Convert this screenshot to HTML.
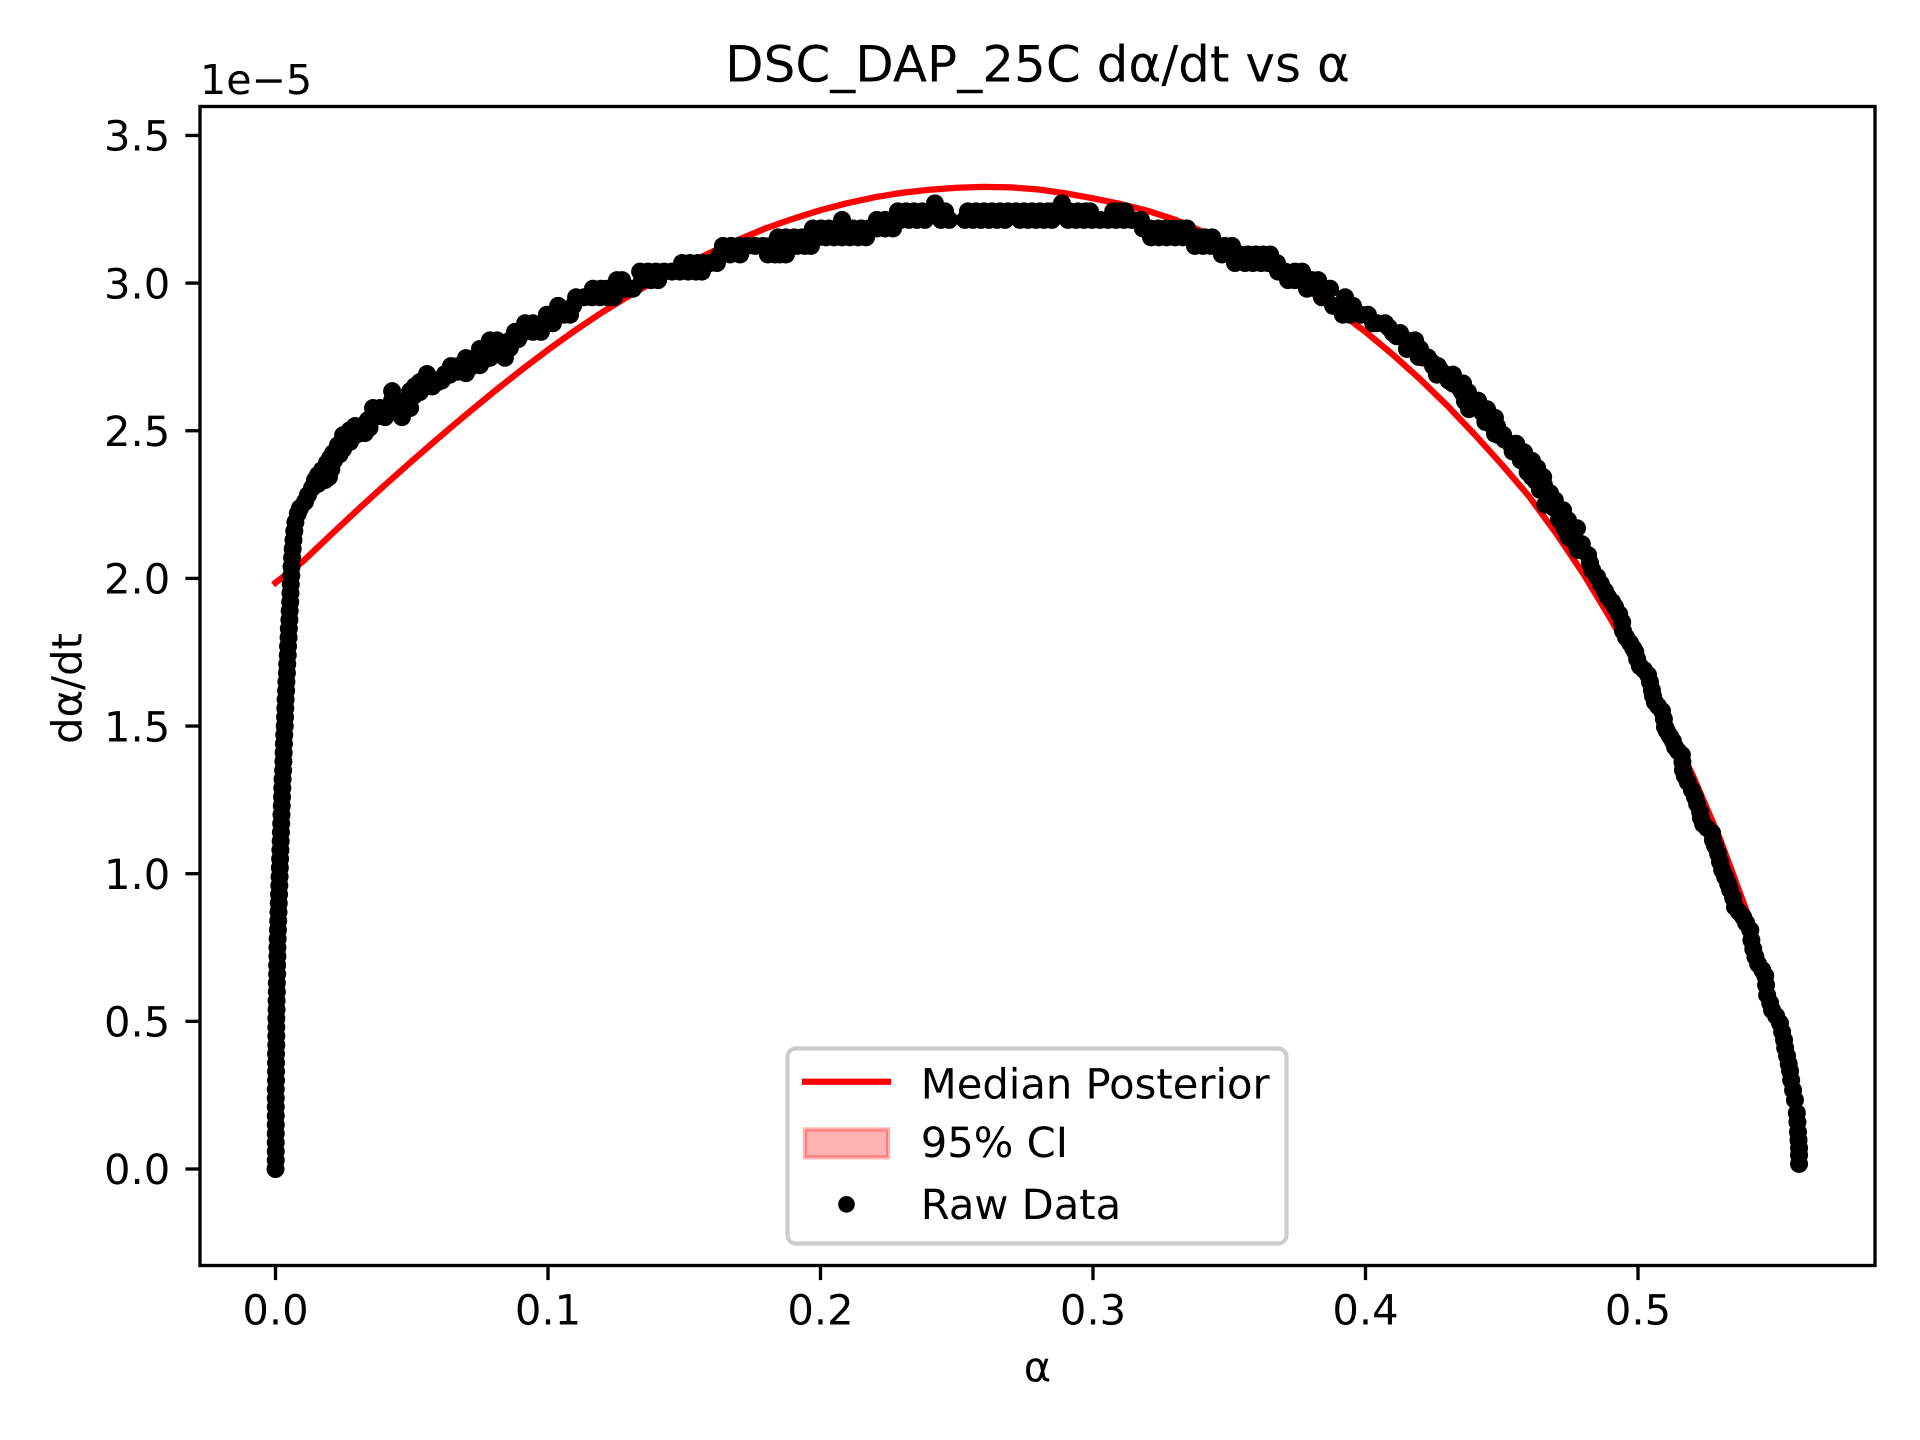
<!DOCTYPE html>
<html lang="en">
<head>
<meta charset="utf-8">
<title>DSC_DAP_25C dα/dt vs α</title>
<style>
html,body{margin:0;padding:0;background:#fff;}
svg{display:block;}
text{font-family:"DejaVu Sans","Liberation Sans",sans-serif;fill:#000;text-rendering:geometricPrecision;}
</style>
</head>
<body>
<svg id="chart" xmlns="http://www.w3.org/2000/svg" width="1920" height="1440" viewBox="0 0 1920 1440">
  <rect x="0" y="0" width="1920" height="1440" fill="#fff"/>
  <g id="median-layer"></g>
  <g id="raw-layer"></g>
  <rect x="200" y="106.5" width="1675" height="1159" fill="none" stroke="#000" stroke-width="3.33"/>
  <g id="x-axis"></g>
  <g id="y-axis"></g>
  <text x="1037.5" y="81.5" font-size="50" text-anchor="middle">DSC_DAP_25C dα/dt vs α</text>
  <text x="200" y="94" font-size="41.2">1e−5</text>
  <text x="1037.5" y="1381.5" font-size="41.67" text-anchor="middle">α</text>
  <text transform="translate(81.5 688.5) rotate(-90)" font-size="41.67" text-anchor="middle">dα/dt</text>
  <g>
    <rect x="787.5" y="1048.5" width="499" height="195" rx="8.3" ry="8.3" fill="#fff" fill-opacity="0.8" stroke="#cccccc" stroke-width="4.17"/>
    <line x1="805" y1="1081.7" x2="888" y2="1081.7" stroke="#ff0000" stroke-width="6.25" stroke-linecap="square"/>
    <text x="920.8" y="1098.5" font-size="41.67">Median Posterior</text>
    <rect x="805" y="1129.4" width="83" height="28" fill="#ff0000" fill-opacity="0.3" stroke="#ff0000" stroke-opacity="0.3" stroke-width="4.17"/>
    <text x="920.8" y="1157" font-size="41.67">95% CI</text>
    <circle cx="846.5" cy="1204.3" r="8.33" fill="#000"/>
    <text x="920.8" y="1219" font-size="41.67">Raw Data</text>
  </g>
</svg>
<script>
const xTickValues = [0.0, 0.1, 0.2, 0.3, 0.4, 0.5];
const xTickLabels = ["0.0", "0.1", "0.2", "0.3", "0.4", "0.5"];
const yTickValues = [0.0, 0.5, 1.0, 1.5, 2.0, 2.5, 3.0, 3.5];
const yTickLabels = ["0.0", "0.5", "1.0", "1.5", "2.0", "2.5", "3.0", "3.5"];

/* Median posterior: alpha and d(alpha)/dt in units of 1e-5 */
const medianAlpha = [0,.01,.02,.03,.04,.05,.06,.07,.08,.09,.10,.11,.12,.13,.14,.15,.16,.17,.18,.19,.20,.21,.22,.23,.24,.25,.26,.27,.28,.29,.30,.31,.32,.33,.34,.35,.36,.37,.38,.39,.40,.41,.42,.43,.44,.45,.46,.47,.48,.49,.50,.51,.52,.53,.54,.5437];
const medianRate = [1.985,2.057,2.145,2.231,2.315,2.397,2.477,2.555,2.631,2.704,2.774,2.840,2.902,2.958,3.011,3.060,3.105,3.147,3.186,3.218,3.247,3.271,3.291,3.306,3.316,3.323,3.326,3.324,3.317,3.304,3.287,3.268,3.245,3.215,3.175,3.130,3.080,3.026,2.968,2.905,2.835,2.758,2.675,2.585,2.488,2.386,2.278,2.152,2.015,1.862,1.700,1.525,1.335,1.120,.870,.760];

/* Raw data: alpha and d(alpha)/dt in units of 1e-5 */
const rawAlpha = [
0,.0001,.0001,.0001,.0001,.0001,.0001,.0001,.0001,.0001,
.0002,.0002,.0002,.0002,.0003,.0003,.0003,.0003,.0004,.0004,
.0005,.0005,.0006,.0006,.0007,.0007,.0008,.0009,.0010,.0011,
.0012,.0013,.0014,.0015,.0016,.0017,.0018,.0019,.0020,.0021,
.0022,.0023,.0024,.0025,.0026,.0028,.0029,.0030,.0031,.0032,
.0034,.0035,.0036,.0037,.0039,.0040,.0042,.0043,.0045,.0046,
.0048,.0049,.0051,.0052,.0054,.0055,.0056,.0058,.0059,.0061,
.0063,.0066,.0069,.0073,.0082,
.0090,.0108,.0119,.0134,.0145,.0156,.0171,.0196,.0182,.0189,
.0200,.0211,.0229,.0248,.0248,.0273,.0273,.0292,.0310,.0328,
.0339,.0358,.0358,.0384,.0402,.0384,.0428,.0428,.0428,.0442,
.0464,.0494,.0475,.0494,.0512,.0530,.0530,.0556,.0556,.0578,
.0596,.0622,.0644,.0670,.0699,.0699,.0721,.0750,.0750,.0776,
.0787,.0787,.0787,.0813,.0813,.0842,.0842,.0861,.0879,.0916,
.0945,.0916,.0945,.0974,.0996,.0989,.1018,.1037,.1059,.1081,
.1092,.1103,.1132,.1161,.1191,.1220,.1242,.1165,.1195,.1217,
.1253,.1272,.1283,.1301,.1312,.1338,.1367,.1396,.1426,.1455,
.1484,.1514,.1543,.1565,.1345,.1378,.1404,.1492,.1521,.1550,
.1569,.1595,.1620,.1631,.1642,.1668,.1672,.1701,.1705,.1730,
.1760,.1789,.1807,.1815,.1833,.1837,.1844,.1851,.1873,.1873,
.1888,.1903,.1914,.1932,.1943,.1961,.1965,.1972,.1991,.2002,
.2020,.2031,.2050,.2061,.2079,.2079,.2090,.2108,.2119,.2138,
.2149,.2167,.2178,.2207,.2207,.2237,.2237,.2266,.2266,.2284,
.2295,.2314,.2325,.2343,.2354,.2373,.2383,.2402,.2420,.2431,
.2442,.2457,.2472,.2530,.2541,.2560,.2571,.2589,.2600,.2618,
.2629,.2648,.2659,.2677,.2688,.2717,.2732,.2747,.2761,.2776,
.2791,.2805,.2820,.2835,.2849,.2853,.2886,.2886,.2908,.2915,
.2938,.2945,.2967,.2974,.2989,.2996,.3026,.3055,.3074,.3084,
.3099,.3114,.3118,.3143,.3176,.3183,.3209,.3213,.3239,.3242,
.3268,.3271,.3297,.3301,.3327,.3330,.3345,.3356,.3374,.3381,
.3404,.3411,.3433,.3437,.3459,.3473,.3484,.3503,.3510,.3539,
.3521,.3558,.3569,.3587,.3598,.3617,.3624,.3642,.3650,.3675,
.3679,.3705,.3716,.3741,.3741,.3767,.3785,.3804,.3826,.3840,
.3844,.3870,.3881,.3907,.3925,.3917,.3943,.3954,.3983,.4009,
.4028,.4043,.4072,.4101,.4127,.4152,.4182,.4152,.4200,.4178,
.4229,.4211,.4266,.4248,.4262,.4292,.4321,.4321,.4358,.4354,
.4376,.4413,.4391,.4380,.4446,.4420,.4475,.4457,.4468,.4483,
.4487,.4505,.4531,.4553,.4567,.4582,.4582,.4611,.4630,.4604,
.4611,.4652,.4655,.4663,.4677,.4695,.4706,.4725,.4721,.4743,
.4776,.4758,.4761,.4780,.4794,.4780,.4817,.4824,.4832,.4850,
.4864,.4879,.4890,.4905,.4916,.4931,.4942,.4945,.4956,.4971,
.4982,.4990,.4997,.5007,.5022,.5037,.5044,.5051,.5055,.5062,
.5073,.5088,.5095,.5099,.5106,.5117,.5128,.5136,.5147,.5161,
.5163,.5165,.5172,.5183,.5198,.5209,.5217,.5228,.5231,.5239,
.5253,.5272,.5275,.5283,.5294,.5301,.5309,.5320,.5331,.5338,
.5349,.5356,.5371,.5386,.5397,.5412,.5416,.5423,.5431,.5441,
.5456,.5467,.5470,.5474,.5485,.5492,.5507,.5521,.5529,.5536,
.5540,.5547,.5553,.5558,.5562,.5569,.5576,.5583,.5585,.5587,
.5589,.5591,.5591,.5591,
.0156,.0171,.0205,.0215,.0235,.0255,.0285,.0305,.0325,.0345,
.0370,.0395,.0415,.0445,.0455,.0475,.0510,.0530,.0575,.0610,
.0640,.0670,.0700,.0725,.0765,.0800,.0830,.0860,.0890,.0915,
.4085,.4115,.4165,.4195,.4245,.4280,.4305,.4340,.4365,.4400,
.4430,.4440,.4475,.4510,.4540,.4570,.4595,.4625,.4640,.4660,
.4690,.4710,.4730,.4745,.4770
];
const rawRate = [
0,.03,.06,.09,.12,.15,.18,.21,.24,.27,
.30,.33,.36,.39,.42,.45,.48,.51,.54,.57,
.60,.63,.66,.69,.72,.75,.78,.81,.84,.87,
.90,.93,.96,.99,1.02,1.05,1.08,1.11,1.14,1.17,
1.20,1.23,1.26,1.29,1.32,1.35,1.38,1.41,1.44,1.47,
1.50,1.53,1.56,1.59,1.62,1.65,1.68,1.71,1.74,1.77,
1.80,1.83,1.86,1.89,1.92,1.95,1.98,2.01,2.04,2.07,
2.10,2.13,2.16,2.19,2.22,
2.238,2.259,2.282,2.306,2.333,2.350,2.367,2.343,2.333,2.391,
2.407,2.424,2.451,2.438,2.485,2.462,2.502,2.516,2.502,2.492,
2.536,2.577,2.543,2.577,2.546,2.550,2.634,2.604,2.577,2.563,
2.546,2.577,2.570,2.634,2.651,2.665,2.631,2.692,2.665,2.672,
2.665,2.692,2.719,2.719,2.695,2.746,2.719,2.722,2.777,2.777,
2.806,2.777,2.747,2.806,2.777,2.747,2.777,2.806,2.835,2.864,
2.864,2.835,2.835,2.835,2.893,2.864,2.864,2.923,2.893,2.893,
2.923,2.952,2.952,2.952,2.952,2.952,2.952,2.981,2.981,2.981,
3.010,3.010,2.981,2.981,2.981,3.039,3.039,3.039,3.039,3.039,
3.039,3.039,3.039,3.039,3.010,3.010,3.010,3.068,3.068,3.068,
3.068,3.068,3.068,3.097,3.126,3.097,3.126,3.126,3.097,3.126,
3.126,3.126,3.097,3.126,3.097,3.126,3.155,3.097,3.097,3.155,
3.126,3.155,3.126,3.155,3.126,3.155,3.126,3.185,3.155,3.185,
3.155,3.185,3.155,3.185,3.155,3.214,3.185,3.155,3.185,3.155,
3.185,3.155,3.185,3.185,3.214,3.185,3.214,3.185,3.214,3.243,
3.214,3.243,3.214,3.243,3.214,3.243,3.214,3.243,3.270,3.243,
3.214,3.243,3.214,3.214,3.243,3.214,3.243,3.214,3.243,3.214,
3.243,3.214,3.243,3.214,3.243,3.243,3.214,3.243,3.214,3.243,
3.214,3.243,3.214,3.243,3.214,3.243,3.270,3.243,3.214,3.243,
3.214,3.243,3.214,3.243,3.243,3.214,3.214,3.214,3.243,3.214,
3.243,3.214,3.243,3.214,3.214,3.185,3.185,3.155,3.185,3.155,
3.185,3.155,3.185,3.155,3.185,3.155,3.185,3.155,3.126,3.155,
3.126,3.155,3.126,3.155,3.126,3.097,3.126,3.097,3.126,3.097,
3.068,3.068,3.097,3.068,3.097,3.068,3.097,3.068,3.097,3.068,
3.039,3.039,3.010,3.010,3.039,3.039,2.981,3.010,3.010,2.952,
2.981,2.981,2.923,2.923,2.952,2.893,2.893,2.923,2.893,2.893,
2.864,2.864,2.864,2.831,2.831,2.806,2.806,2.777,2.777,2.777,
2.748,2.748,2.719,2.719,2.690,2.690,2.690,2.660,2.660,2.631,
2.631,2.602,2.602,2.573,2.573,2.573,2.544,2.544,2.515,2.515,
2.486,2.486,2.456,2.456,2.427,2.427,2.398,2.398,2.374,2.374,
2.343,2.343,2.316,2.289,2.289,2.265,2.231,2.231,2.197,2.197,
2.170,2.170,2.140,2.116,2.116,2.096,2.079,2.052,2.028,2.005,
1.981,1.957,1.937,1.920,1.903,1.879,1.852,1.822,1.801,1.781,
1.764,1.751,1.727,1.703,1.690,1.673,1.649,1.622,1.602,1.581,
1.568,1.551,1.524,1.497,1.483,1.466,1.449,1.429,1.415,1.402,
1.378,1.351,1.331,1.310,1.283,1.260,1.236,1.209,1.189,1.168,
1.155,1.138,1.114,1.094,1.067,1.040,1.012,.989,.965,.945,
.918,.887,.870,.853,.833,.809,.775,.745,.718,.694,
.674,.654,.623,.589,.562,.538,.518,.494,.464,.437,
.410,.383,.356,.332,.301,.267,.234,.190,.159,.125,
.098,.071,.047,.017,
2.32,2.34,2.37,2.40,2.42,2.46,2.48,2.49,2.52,2.51,
2.55,2.57,2.57,2.59,2.56,2.60,2.62,2.65,2.65,2.67,
2.69,2.70,2.72,2.74,2.74,2.76,2.76,2.78,2.81,2.85,
2.85,2.82,2.79,2.75,2.73,2.70,2.67,2.65,2.60,2.59,
2.56,2.53,2.49,2.47,2.43,2.40,2.36,2.33,2.30,2.25,
2.24,2.20,2.17,2.14,2.12
];

const SVG_NS = 'http://www.w3.org/2000/svg';
const plotLeft = 200, plotRight = 1875, plotTop = 106.5, plotBottom = 1265.5;
const xDomainMin = -0.027706, xDomainMax = 0.58697;
const yDomainMin = -0.32679, yDomainMax = 3.59804;
function xScale(v) { return plotLeft + (v - xDomainMin) / (xDomainMax - xDomainMin) * (plotRight - plotLeft); }
function yScale(v) { return plotBottom - (v - yDomainMin) / (yDomainMax - yDomainMin) * (plotBottom - plotTop); }

const xAxisGroup = document.getElementById('x-axis');
xTickValues.forEach(function (value, i) {
  const x = xScale(value);
  const tick = document.createElementNS(SVG_NS, 'line');
  
  
  tick.setAttribute('x1', x);
  tick.setAttribute('x2', x);
  tick.setAttribute('y1', plotBottom);
  tick.setAttribute('y2', plotBottom + 14.6);
  tick.setAttribute('stroke', '#000');
  tick.setAttribute('stroke-width', '3.33');
  xAxisGroup.appendChild(tick);
  const label = document.createElementNS(SVG_NS, 'text');
  
  
  label.setAttribute('x', x);
  label.setAttribute('y', plotBottom + 59);
  label.setAttribute('font-size', '41.67');
  label.setAttribute('text-anchor', 'middle');
  label.textContent = xTickLabels[i];
  xAxisGroup.appendChild(label);
});

const yAxisGroup = document.getElementById('y-axis');
yTickValues.forEach(function (value, i) {
  const y = yScale(value);
  const tick = document.createElementNS(SVG_NS, 'line');
  
  
  tick.setAttribute('x1', plotLeft - 14.6);
  tick.setAttribute('x2', plotLeft);
  tick.setAttribute('y1', y);
  tick.setAttribute('y2', y);
  tick.setAttribute('stroke', '#000');
  tick.setAttribute('stroke-width', '3.33');
  yAxisGroup.appendChild(tick);
  const label = document.createElementNS(SVG_NS, 'text');
  
  
  label.setAttribute('x', plotLeft - 29.7);
  label.setAttribute('y', y + 15.2);
  label.setAttribute('font-size', '41.67');
  label.setAttribute('text-anchor', 'end');
  label.textContent = yTickLabels[i];
  yAxisGroup.appendChild(label);
});

const medianPath = document.createElementNS(SVG_NS, 'path');


medianPath.setAttribute('d', medianAlpha.map(function (a, i) {
  return (i ? 'L' : 'M') + xScale(a).toFixed(2) + ' ' + yScale(medianRate[i]).toFixed(2);
}).join(' '));
medianPath.setAttribute('fill', 'none');
medianPath.setAttribute('stroke', '#ff0000');
medianPath.setAttribute('stroke-width', '6.25');
medianPath.setAttribute('stroke-linecap', 'square');
medianPath.setAttribute('stroke-linejoin', 'round');
document.getElementById('median-layer').appendChild(medianPath);

const rawLayer = document.getElementById('raw-layer');
rawAlpha.forEach(function (a, i) {
  const dot = document.createElementNS(SVG_NS, 'circle');
  
  
  dot.setAttribute('cx', xScale(a).toFixed(2));
  dot.setAttribute('cy', yScale(rawRate[i]).toFixed(2));
  dot.setAttribute('r', '9');
  dot.setAttribute('fill', '#000');
  rawLayer.appendChild(dot);
});
</script>
</body>
</html>
